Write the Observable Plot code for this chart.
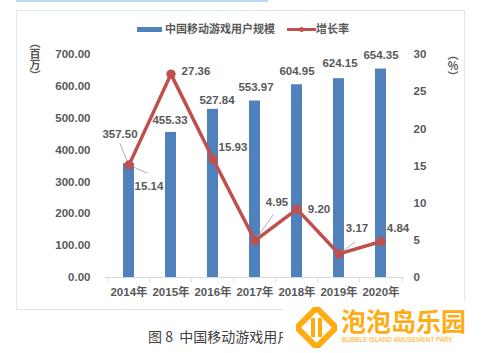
<!DOCTYPE html>
<html>
<head>
<meta charset="utf-8">
<script src="https://cdn.jsdelivr.net/npm/d3@7"></script>
<script src="https://cdn.jsdelivr.net/npm/@observablehq/plot@0.6"></script>
<style>
  html, body { margin: 0; padding: 0; background: #fff; }
  #wrap { position: relative; width: 483px; height: 353px; overflow: hidden; font-family: "Liberation Sans", "Noto Sans CJK SC", sans-serif; }
  #box { position: absolute; left: 16px; top: 10px; width: 449px; height: 300px; border: 1.5px solid #e3e3e3; box-sizing: border-box; }
  #topline { position: absolute; left: 16px; top: 0; width: 252px; height: 2px; background: #bdd7ee; }
  #chart { position: absolute; left: 0; top: 0; }
  .lg { position: absolute; font-size: 11px; font-weight: bold; color: #595959; white-space: nowrap; line-height: 14px; }
  .vt { position: absolute; writing-mode: vertical-rl; text-orientation: upright; font-size: 11px; font-weight: bold; color: #595959; line-height: 12px; font-family: "Noto Sans CJK SC", sans-serif; }
  #caption { position: absolute; left: 148px; top: 327px; font-size: 14px; color: #404040; white-space: nowrap; font-family: "Noto Sans CJK SC", sans-serif; line-height: 18px; }
  #wm { position: absolute; left: 283px; top: 301px; width: 200px; height: 52px; background: #fff; }
  #wmtext { position: absolute; left: 341px; top: 307px; font-size: 25px; font-weight: bold; color: #FFAC12; font-family: "Noto Sans CJK SC", sans-serif; line-height: 26px; white-space: nowrap; }
  #wmsub { position: absolute; left: 342px; top: 336px; font-size: 6.4px; color: #FFAC12; font-family: "Liberation Sans", sans-serif; white-space: nowrap; line-height: 7px; }
</style>
</head>
<body>
<div id="wrap">
  <div id="topline"></div>
  <div id="box"></div>
  <div id="chart"></div>
  <div class="lg" style="left:137px; top:26.5px; width:25px; height:5px; background:#4F81BD;"></div>
  <div class="lg" style="left:165px; top:22px;">中国移动游戏用户规模</div>
  <div class="lg" style="left:287px; top:27.5px; width:29px; height:3px; background:#C0504D;"></div>
  <div class="lg" style="left:299px; top:26.5px; width:5px; height:5px; border-radius:50%; background:#C0504D;"></div>
  <div class="lg" style="left:316px; top:22px;">增长率</div>
  <div class="vt" style="left:29px; top:37px;">︵百万︶</div>
  <div class="vt" style="left:447px; top:49px;">︵%︶</div>
  <div id="caption">图 8&nbsp;&nbsp;中国移动游戏用户</div>
  <div id="wm"></div>
  <svg style="position:absolute; left:296px; top:307px;" width="41" height="41" viewBox="0 0 41 41">
    <polygon points="20.5,1 40,20.5 20.5,40 1,20.5" fill="none" stroke="#FFAC12" stroke-width="6" stroke-linejoin="miter"/>
    <rect x="15" y="11" width="4" height="19" fill="#FFAC12"/>
    <rect x="22" y="11" width="4" height="19" fill="#FFAC12"/>
  </svg>
  <div id="wmtext">泡泡岛乐园</div>
  <div id="wmsub">BUBBLE ISLAND AMUSEMENT PARK</div>
</div>
<script>
// ---- data ----
const years = ["2014年", "2015年", "2016年", "2017年", "2018年", "2019年", "2020年"];
const users = [357.50, 455.33, 527.84, 553.97, 604.95, 624.15, 654.35];
const growth = [15.14, 27.36, 15.93, 4.95, 9.20, 3.17, 4.84];
const leftTicks = [0, 100, 200, 300, 400, 500, 600, 700];
const rightTicks = [0, 5, 10, 15, 20, 25, 30];

// ---- chart ----
const k = 700 / 30; // right axis (0–30) mapped onto left axis (0–700)
const data = years.map((y, i) => ({year: y, users: users[i], growth: growth[i], g: growth[i] * k}));

const textColor = "#595959";
const font = {fontSize: 11.5, fontWeight: "bold", fill: textColor};

const barLabelOffsets = [[-9, -29], [-1, -12], [4, -9], [1, -14], [0, -13], [1, -15], [0, -14]];
const lineLabelOffsets = [[20, 21], [25, -3], [20, -12], [22, -38], [22, 0], [18, -26], [17, -13]];
const leaders = [[0, 23, -23], [0, 20, 114], [3, 32, 35], [5, 20, 53]]; // [index, length, rotate]
const leaderShape = {draw(context, l) { context.moveTo(0, 0); context.lineTo(0, -l); }};
const half = 298 / 7 / 2;

const chart = Plot.plot({
  width: 483,
  height: 353,
  marginLeft: 105,
  marginRight: 80,
  marginTop: 54,
  marginBottom: 76,
  style: {background: "transparent", color: textColor, fontFamily: "'Liberation Sans', 'Noto Sans CJK SC', sans-serif"},
  x: {type: "band", domain: years, paddingInner: 0.74, paddingOuter: 0.37, axis: null},
  y: {domain: [0, 700], axis: null},
  marks: [
    Plot.barY(data, {x: "year", y: "users", fill: "#4F81BD"}),
    Plot.ruleY([0], {stroke: "#d9d9d9", strokeWidth: 1}),
    Plot.axisX({tickSize: 5, stroke: "#d9d9d9", tickFormat: () => "", label: null, dx: -half}),
    Plot.axisX([years[years.length - 1]], {tickSize: 5, stroke: "#d9d9d9", tickFormat: () => "", label: null, dx: half}),
    Plot.axisX({tickSize: 0, tickPadding: 10, label: null, fontSize: 11.5, fontWeight: "bold", fill: textColor}),
    Plot.axisY(leftTicks, {anchor: "left", tickSize: 0, tickPadding: 15, label: null, tickFormat: d => d.toFixed(2), fontSize: 11.5, fontWeight: "bold", fill: textColor}),
    Plot.axisY(rightTicks.map(t => t * k), {anchor: "right", tickSize: 0, tickPadding: 10, label: null, tickFormat: d => String(Math.round(d / k)), fontSize: 11.5, fontWeight: "bold", fill: textColor}),
    Plot.line(data, {x: "year", y: "g", stroke: "#C0504D", strokeWidth: 3.5}),
    leaders.map(([i, len, rot]) => Plot.vector([data[i]], {x: "year", y: "g", length: len, rotate: rot, anchor: "start", shape: leaderShape, stroke: "#a6a6a6", strokeWidth: 0.8})),
    Plot.dot(data, {x: "year", y: "g", r: 4.7, fill: "#C0504D", stroke: "none"}),
    data.map((d, i) => Plot.text([d], {x: "year", y: "users", text: d => d.users.toFixed(2), dx: barLabelOffsets[i][0], dy: barLabelOffsets[i][1], ...font})),
    data.map((d, i) => Plot.text([d], {x: "year", y: "g", text: d => d.growth.toFixed(2), dx: lineLabelOffsets[i][0], dy: lineLabelOffsets[i][1], ...font}))
  ]
});
document.getElementById("chart").appendChild(chart);
</script>
</body>
</html>
